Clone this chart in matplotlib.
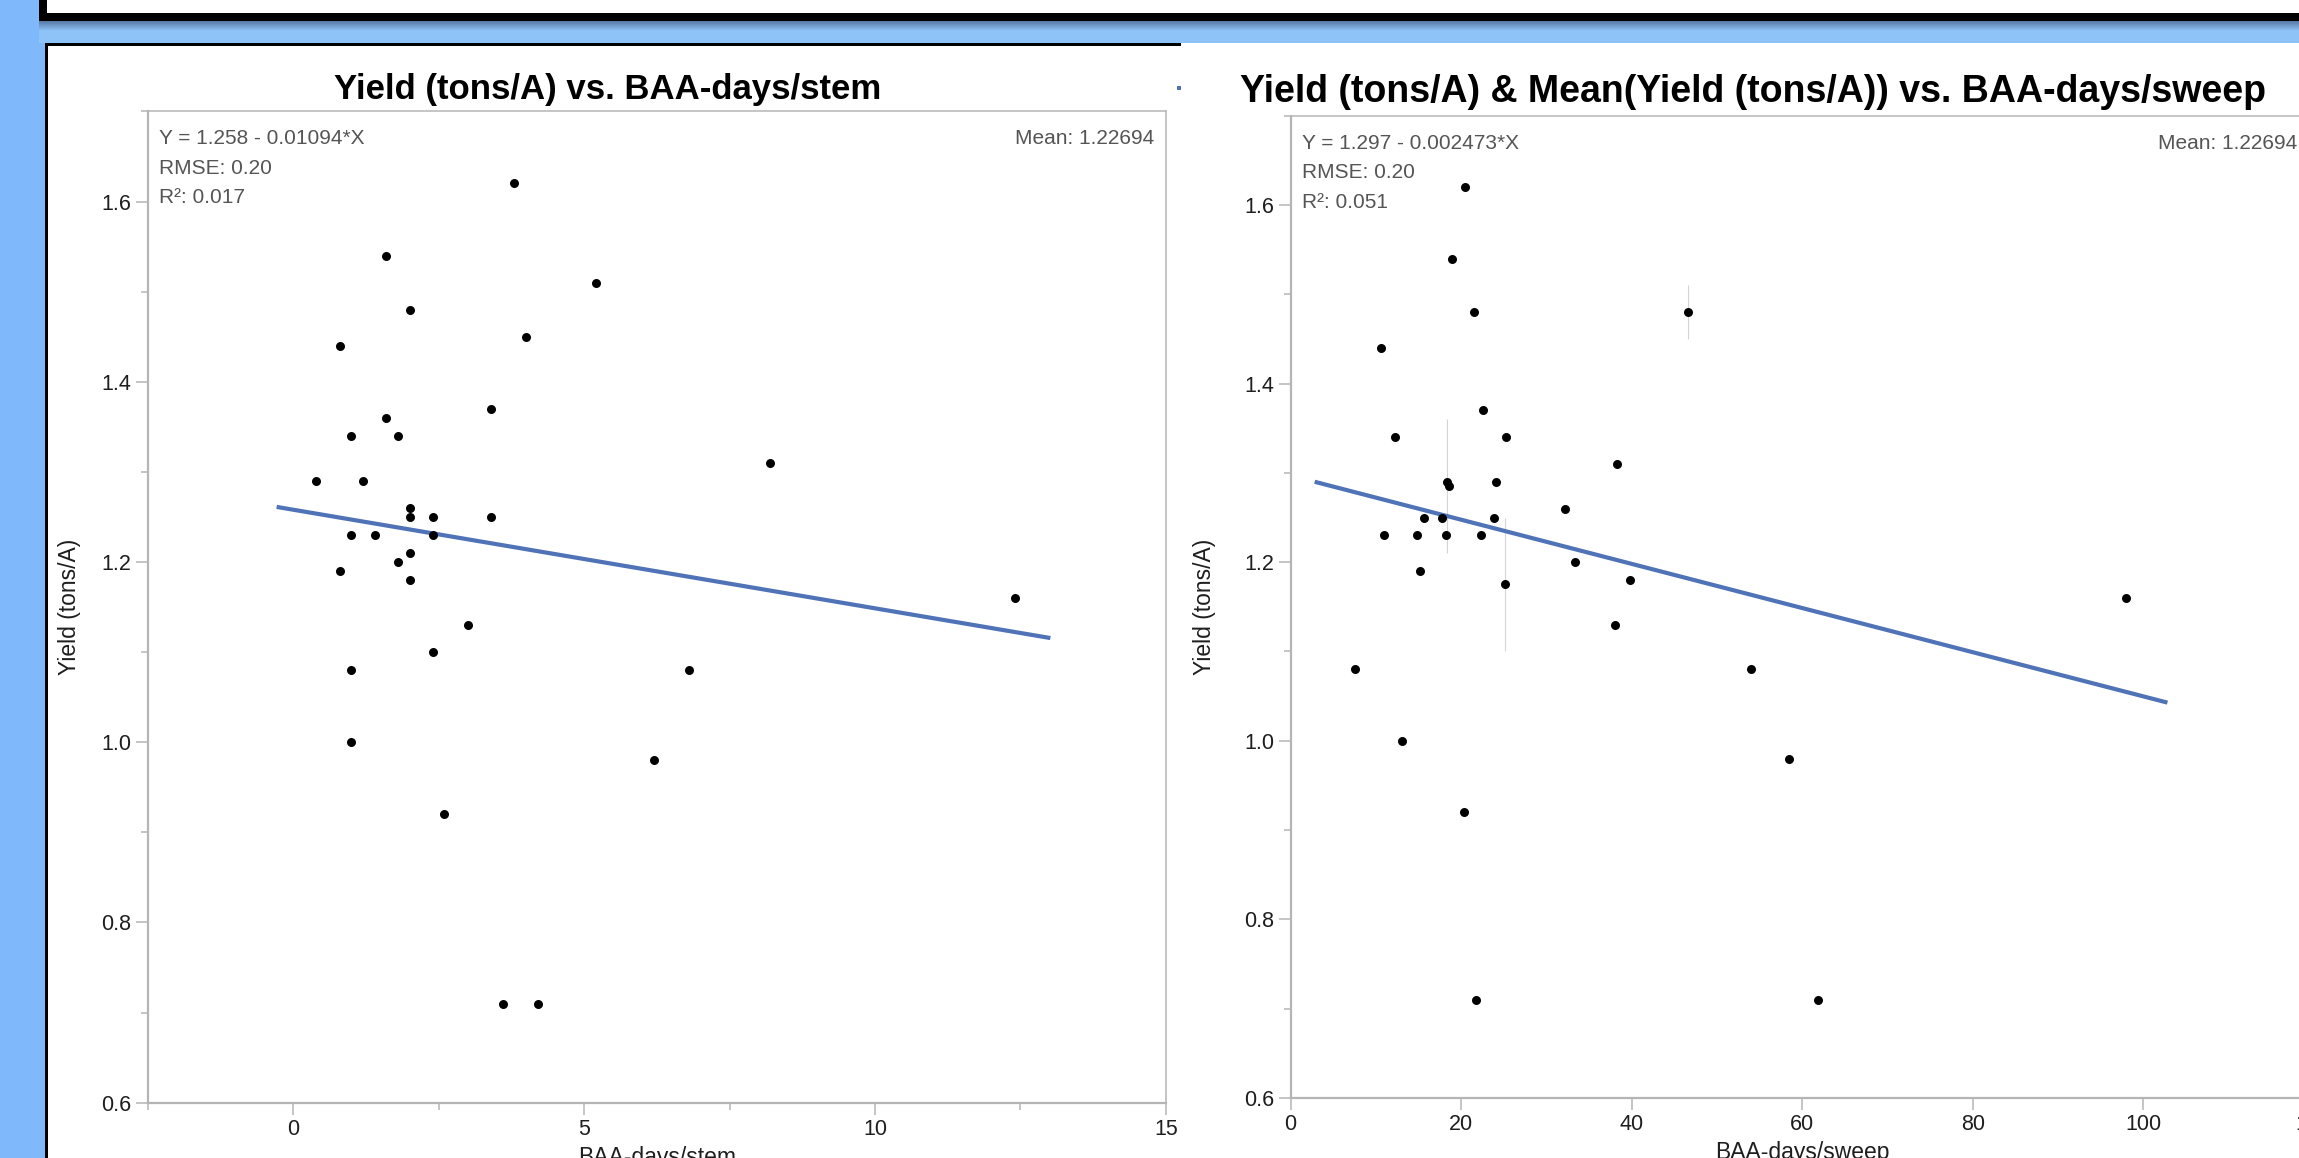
import matplotlib
matplotlib.use("Agg")
import numpy as np
import matplotlib.pyplot as plt
from matplotlib.patches import Rectangle
from matplotlib.ticker import MultipleLocator

plt.rcParams['font.family'] = ['Liberation Sans', 'DejaVu Sans']

# yield vs BAA-days/stem
stem_x = [3.8, 1.6, 5.2, 2.0, 4.0, 0.8, 3.4, 1.6, 1.0, 1.8, 8.2, 0.4, 1.2, 2.0, 2.0, 2.4, 3.4,
          1.0, 1.4, 2.4, 2.0, 1.8, 0.8, 2.0, 12.4, 3.0, 2.4, 1.0, 6.8, 1.0, 6.2, 2.6, 3.6, 4.2]
stem_y = [1.62, 1.54, 1.51, 1.48, 1.45, 1.44, 1.37, 1.36, 1.34, 1.34, 1.31, 1.29, 1.29, 1.26, 1.25, 1.25, 1.25,
          1.23, 1.23, 1.23, 1.21, 1.20, 1.19, 1.18, 1.16, 1.13, 1.10, 1.08, 1.08, 1.00, 0.98, 0.92, 0.71, 0.71]
stem_fit = (1.258, -0.01094)
stem_fit_x = [-0.25, 12.98]

# yield vs BAA-days/sweep
sweep_x = [20.5, 18.9, 21.5, 46.6, 10.6, 22.6, 12.3, 25.3, 38.3, 18.3, 18.6, 24.1, 32.2, 15.6, 17.8, 23.9,
           11.0, 14.8, 18.2, 22.3, 33.3, 15.2, 39.8, 25.2, 98.0, 38.1, 7.5, 54.0, 13.1, 58.4, 20.3, 21.8, 61.8]
sweep_y = [1.62, 1.54, 1.48, 1.48, 1.44, 1.37, 1.34, 1.34, 1.31, 1.29, 1.285, 1.29, 1.26, 1.25, 1.25, 1.25,
           1.23, 1.23, 1.23, 1.23, 1.20, 1.19, 1.18, 1.175, 1.16, 1.13, 1.08, 1.08, 1.00, 0.98, 0.92, 0.71, 0.71]
sweep_fit = (1.297, -0.002473)
sweep_fit_x = [3.06, 102.6]
err_x = [46.6, 18.4, 25.2]
err_lo = [1.45, 1.21, 1.10]
err_hi = [1.51, 1.36, 1.25]

W, H = 2299, 1158
gray = '#b5b5b5'
blue = '#4f73b6'
txtgray = '#555555'


def box(x0, y0, x1, y1):
    return [x0 / W, 1 - y1 / H, (x1 - x0) / W, (y1 - y0) / H]


def rect(x0, y0, x1, y1, color):
    l, b, w, h = box(x0, y0, x1, y1)
    fig.add_artist(Rectangle((l, b), w, h, transform=fig.transFigure,
                             facecolor=color, edgecolor='none', zorder=0))


fig = plt.figure(figsize=(W / 100, H / 100), dpi=100)
fig.patch.set_facecolor('white')

# slide background pieces
rect(0, 0, 45, H, '#80b9fb')
rect(39, 21, W, 43, '#8ec3f8')
rect(39, 0, W, 21, 'black')
rect(47, 0, W, 13, 'white')
rect(45, 43, 1181, H, 'black')
rect(47.5, 45.5, 1181, H, 'white')
rect(1181, 43, W, H, 'white')
rect(1177, 86, 1181, 90, blue)

sh = fig.add_axes(box(39, 21, W, 31))
grad = np.linspace(0, 1, 20)[:, None, None]
c0 = np.array([88, 122, 163]) / 255
c1 = np.array([142, 195, 248]) / 255
sh.imshow(c0 + (c1 - c0) * grad * np.ones((1, 2, 1)), aspect='auto')
sh.axis('off')


def panel(pos, xs, ys, fit, fit_x, xlim, xmaj, xmin_step, eq, rmse, r2, xlabel, ylx):
    ax = fig.add_axes(box(*pos))
    ax.set_xlim(*xlim)
    ax.set_ylim(0.6, 1.70)
    ax.scatter(xs, ys, s=42, c='black', linewidths=0, zorder=3)
    fx = np.array(fit_x)
    ax.plot(fx, fit[0] + fit[1] * fx, color=blue, lw=3.0, zorder=2)
    ax.xaxis.set_major_locator(MultipleLocator(xmaj))
    if xmin_step:
        ax.xaxis.set_minor_locator(MultipleLocator(xmin_step))
    ax.yaxis.set_major_locator(MultipleLocator(0.2))
    ax.yaxis.set_minor_locator(MultipleLocator(0.1))
    for s in ax.spines.values():
        s.set_color(gray)
        s.set_linewidth(1.1)
    ax.spines['left'].set_linewidth(1.6)
    ax.spines['bottom'].set_linewidth(1.6)
    ax.tick_params(which='major', length=8.4, width=1.1, color=gray,
                   labelsize=15.5, labelcolor='#1e1e1e', pad=3.5)
    ax.tick_params(which='minor', length=5, width=1.1, color=gray)
    ax.set_ylabel('Yield (tons/A)', fontsize=16.5, color='#1e1e1e', va='center')
    ax.yaxis.set_label_coords(ylx, 0.5)
    ax.set_xlabel(xlabel, fontsize=16.5, color='#1e1e1e', va='top')
    ax.xaxis.set_label_coords(0.5, -0.044)
    for i, t in enumerate([eq, rmse, r2]):
        ax.annotate(t, xy=(0, 1), xycoords='axes fraction', xytext=(11, -18 - 29.5 * i),
                    textcoords='offset pixels', ha='left', va='top', fontsize=15, color=txtgray)
    return ax


ax1 = panel((147.8, 111.4, 1165.8, 1102.7), stem_x, stem_y, stem_fit, stem_fit_x,
            (-2.5, 15), 5, 2.5, 'Y = 1.258 - 0.01094*X', 'RMSE: 0.20', 'R²: 0.017',
            'BAA-days/stem', -0.077)
ax1.annotate('Mean: 1.22694', xy=(1, 1), xycoords='axes fraction', xytext=(-12, -18),
             textcoords='offset pixels', ha='right', va='top', fontsize=15, color=txtgray)

ax2 = panel((1290.6, 115.7, 2313.8, 1097.9), sweep_x, sweep_y, sweep_fit, sweep_fit_x,
            (0, 120), 20, None, 'Y = 1.297 - 0.002473*X', 'RMSE: 0.20', 'R²: 0.051',
            'BAA-days/sweep', -0.084)
ax2.vlines(err_x, err_lo, err_hi, color='#d4d4d4', lw=0.8, zorder=1)
fig.text(2297 / W, 1 - 134 / H, 'Mean: 1.22694', ha='right', va='top', fontsize=15, color=txtgray)

fig.text(608 / W, 1 - 99 / H, 'Yield (tons/A) vs. BAA-days/stem', ha='center', va='baseline',
         fontsize=25, fontweight='bold')
fig.text(1753 / W, 1 - 102 / H, 'Yield (tons/A) & Mean(Yield (tons/A)) vs. BAA-days/sweep',
         ha='center', va='baseline', fontsize=27, fontweight='bold')

fig.savefig('out.png', dpi=100)
